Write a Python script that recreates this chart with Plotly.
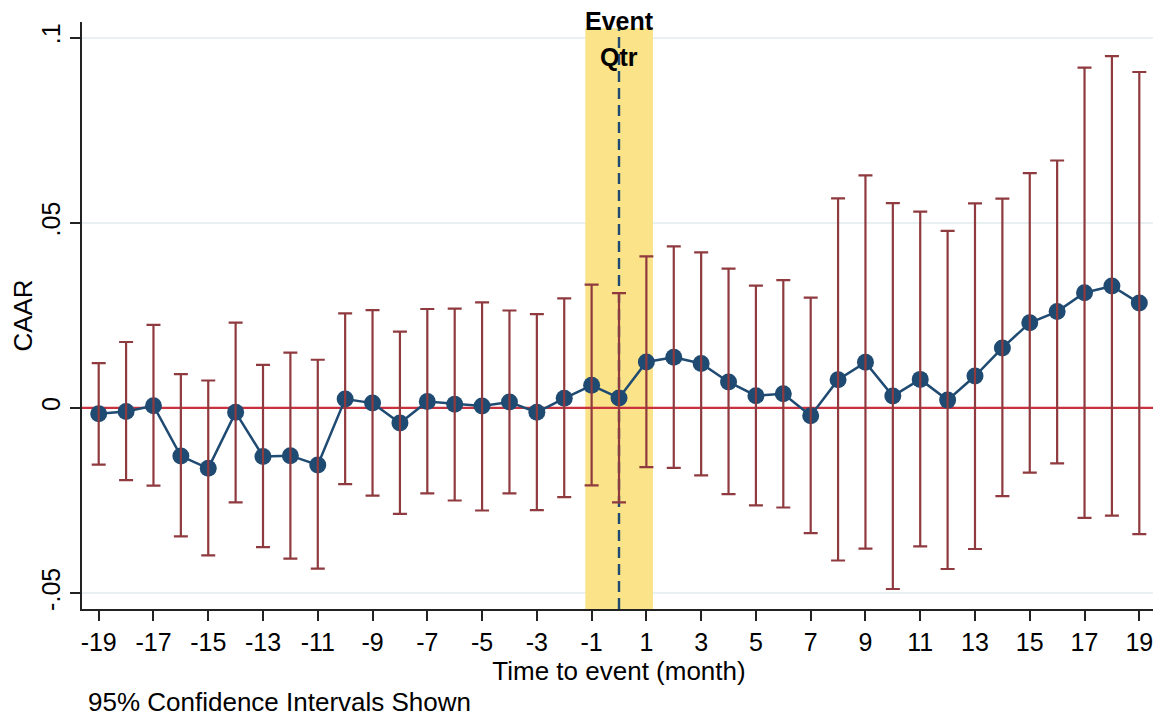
import plotly.graph_objects as go

# ---- data ----
months = list(range(-19, 20))
caar = [-0.0016, -0.0010, 0.0006, -0.0130, -0.0163, -0.0012, -0.0131, -0.0129, -0.0154,
        0.0024, 0.0013, -0.0041, 0.0017, 0.0010, 0.0005, 0.0016, -0.0012, 0.0026, 0.0061,
        0.0027, 0.0124, 0.0137, 0.0120, 0.0070, 0.0033, 0.0038, -0.0021, 0.0076, 0.0123,
        0.0032, 0.0077, 0.0021, 0.0086, 0.0162, 0.0230, 0.0260, 0.0311, 0.0329, 0.0283]
ci_upper = [0.0121, 0.0178, 0.0224, 0.0091, 0.0074, 0.0230, 0.0116, 0.0149, 0.0130,
            0.0255, 0.0264, 0.0206, 0.0267, 0.0268, 0.0285, 0.0263, 0.0253, 0.0296, 0.0333,
            0.0310, 0.0409, 0.0436, 0.0420, 0.0376, 0.0330, 0.0345, 0.0298, 0.0566, 0.0628,
            0.0553, 0.0530, 0.0478, 0.0552, 0.0565, 0.0634, 0.0668, 0.0919, 0.0950, 0.0907]
ci_lower = [-0.0153, -0.0195, -0.0210, -0.0347, -0.0398, -0.0255, -0.0376, -0.0407, -0.0434,
            -0.0206, -0.0237, -0.0286, -0.0231, -0.0250, -0.0277, -0.0231, -0.0276, -0.0241, -0.0209,
            -0.0255, -0.0160, -0.0162, -0.0182, -0.0233, -0.0263, -0.0269, -0.0338, -0.0412, -0.0380,
            -0.0489, -0.0374, -0.0435, -0.0381, -0.0238, -0.0175, -0.0150, -0.0297, -0.0291, -0.0341]
x_ticks = list(range(-19, 20, 2))
x_tick_labels = [str(v) for v in x_ticks]
y_ticks = [-0.05, 0, 0.05, 0.1]
y_tick_labels = ["-.05", "0", ".05", ".1"]
event_band = (-1.23, 1.24)
event_band_top = 0.1025
event_month = 0
ref_value = 0

# ---- style ----
FONT = "Liberation Sans, Arial, Helvetica, sans-serif"
NAVY = "#1f4a72"
MAROON = "#8f3a3e"
RED = "#c8323e"
GOLD = "#fae388"
GRID = "#e9f0f1"
x_range = [-19.61, 19.61]
y_range = [-0.0543, 0.1042]

fig = go.Figure()

# zero reference line
fig.add_trace(go.Scatter(
    x=x_range, y=[ref_value, ref_value], mode="lines",
    line=dict(color=RED, width=2.2), showlegend=False, hoverinfo="skip"))

fig.add_trace(go.Scatter(
    x=months, y=caar, mode="lines+markers",
    line=dict(color=NAVY, width=2.5),
    marker=dict(color=NAVY, size=17),
    showlegend=False, hoverinfo="skip"))

fig.add_trace(go.Scatter(
    x=months, y=caar, mode="markers",
    marker=dict(color="rgba(0,0,0,0)", size=1),
    error_y=dict(type="data", symmetric=False,
                 array=[u - c for u, c in zip(ci_upper, caar)],
                 arrayminus=[c - l for c, l in zip(caar, ci_lower)],
                 color=MAROON, thickness=2.2, width=7),
    showlegend=False, hoverinfo="skip"))

# event band
fig.add_shape(type="rect", xref="x", yref="y",
              x0=event_band[0], x1=event_band[1], y0=y_range[0], y1=event_band_top,
              fillcolor=GOLD, line=dict(width=0), layer="between")
# event dashed line
fig.add_shape(type="line", xref="x", yref="y", x0=event_month, x1=event_month,
              y0=y_range[0], y1=event_band_top,
              line=dict(color=NAVY, width=2.4, dash="11px,6px"), layer="between")

fig.add_annotation(x=event_month, xref="x", y=1.0017, yref="paper", text="<b>Event</b>",
                   showarrow=False, font=dict(family=FONT, size=25, color="black"),
                   xanchor="center", yanchor="middle")
fig.add_annotation(x=event_month, xref="x", y=0.940, yref="paper", text="<b>Qtr</b>",
                   showarrow=False, font=dict(family=FONT, size=25, color="black"),
                   xanchor="center", yanchor="middle")
fig.add_annotation(x=0.0037, xref="paper", y=-0.158, yref="paper",
                   text="95% Confidence Intervals Shown",
                   showarrow=False, font=dict(family=FONT, size=26, color="black"),
                   xanchor="left", yanchor="middle")

# page body has an 8px default margin; size figure so it fills the 1161x718 window
fig.update_layout(
    width=1153, height=710,
    margin=dict(l=74, r=5, t=14, b=109),
    paper_bgcolor="white", plot_bgcolor="white",
    font=dict(family=FONT, size=24, color="black"),
    showlegend=False,
)
fig.update_xaxes(
    range=x_range, tickmode="array", tickvals=x_ticks, ticktext=x_tick_labels,
    ticks="outside", ticklen=10, tickwidth=1.5, tickcolor="#222",
    showline=True, linecolor="#222", linewidth=1.8,
    showgrid=False, zeroline=False, automargin=False,
    tickfont=dict(family=FONT, size=25),
    title=dict(text="Time to event (month)", font=dict(family=FONT, size=26), standoff=1),
)
fig.update_yaxes(
    range=y_range, tickmode="array", tickvals=y_ticks, ticktext=y_tick_labels,
    tickangle=-90,
    ticks="outside", ticklen=10, tickwidth=1.5, tickcolor="#222",
    showline=True, linecolor="#222", linewidth=1.8,
    showgrid=True, gridcolor=GRID, gridwidth=1.5, zeroline=False, automargin=False,
    tickfont=dict(family=FONT, size=25),
    title=dict(text="CAAR", font=dict(family=FONT, size=26), standoff=8),
)

fig.write_html("out.html")
